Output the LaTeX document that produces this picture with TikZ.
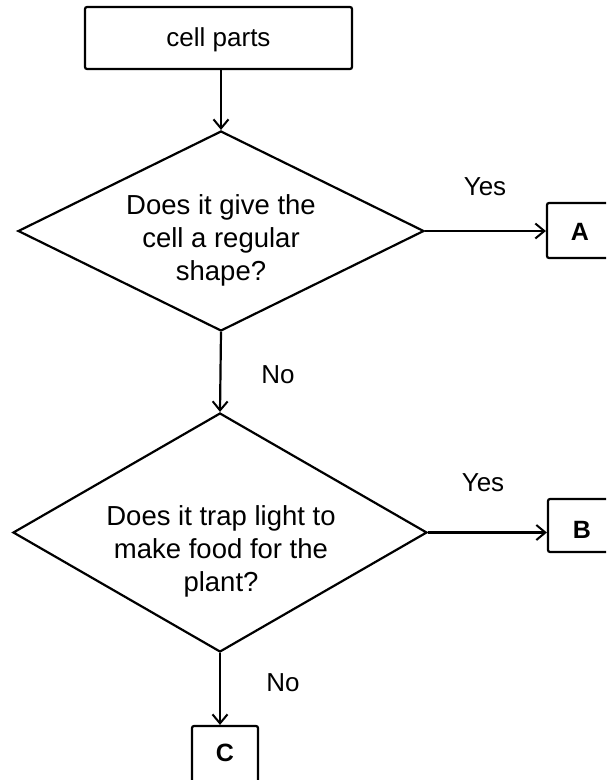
\documentclass[tikz,border=0pt]{standalone}
\usepackage{fontspec}
\setmainfont{Liberation Sans}
\usetikzlibrary{shapes.geometric,arrows.meta}
\begin{document}
\begin{tikzpicture}[x=1pt,y=-1pt,
  line width=2.2pt,
  boxnode/.style={draw, rectangle, rounded corners=2pt, inner sep=0pt},
  dia/.style={draw, diamond, inner sep=0pt},
  qtext/.style={align=center, font=\fontsize{27.5}{33}\selectfont, inner sep=0pt},
  lbl/.style={font=\fontsize{26}{30}\selectfont, inner sep=0pt},
  letter/.style={font=\fontsize{25}{30}\selectfont\bfseries, inner sep=0pt},
  arr/.style={-{Straight Barb[length=9pt,width=15pt,line width=2pt]}}
]
\path[use as bounding box, clip] (0,0) rectangle (606,780);
\fill[white] (0,0) rectangle (606,780);

\node[boxnode, minimum width=267pt, minimum height=62pt] (top) at (218.5,38) {};
\node[lbl] (toptext) at (218.5,40) {cell parts};

\node[dia, minimum width=406pt, minimum height=200pt] (d1) at (221,231) {};
\node[qtext] (q1) at (221,240) {Does it give the\\cell a regular\\shape?};

\node[dia, minimum width=414pt, minimum height=239pt] (d2) at (220,532.5) {};
\node[qtext] (q2) at (221,551) {Does it trap light to\\make food for the\\plant?};

\node[boxnode, minimum width=66pt, minimum height=55pt] (A) at (580,230.5) {};
\node[letter] (At) at (580,232) {A};
\node[boxnode, minimum width=66pt, minimum height=53pt] (B) at (581,525.5) {};
\node[letter] (Bt) at (582,530) {B};
\node[boxnode, minimum width=66pt, minimum height=64pt] (C) at (225,758) {};
\node[letter] (Ct) at (225,753) {C};

\node[lbl] (yes1) at (485,187) {Yes};
\node[lbl] (yes2) at (483,483) {Yes};
\node[lbl] (no1) at (278,375) {No};
\node[lbl] (no2) at (283,683) {No};

\draw[arr] (d1.north |- top.south) -- (d1.north);
\draw[arr] (d1.east) -- (d1.east -| A.west);
\draw[arr] (d1.south) -- (d2.north);
\draw[arr] (d2.east) -- (d2.east -| B.west);
\draw[arr] (d2.south) -- (d2.south |- C.north);
\end{tikzpicture}
\end{document}
